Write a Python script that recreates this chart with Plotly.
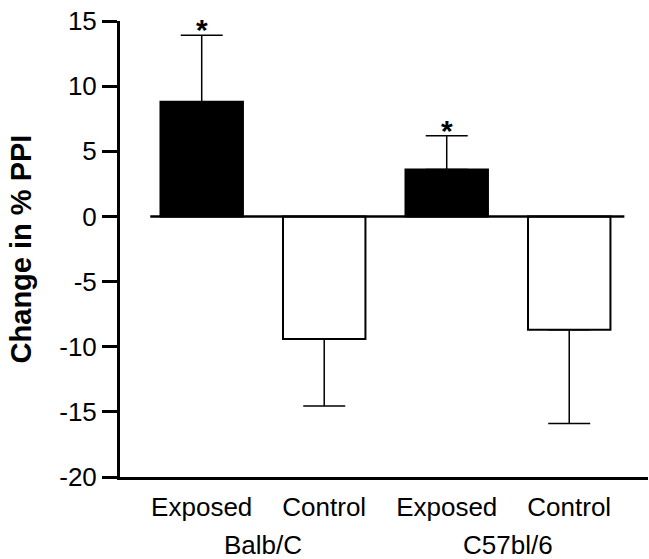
import plotly.graph_objects as go

groups = ["Balb/C", "C57bl/6"]
conditions = ["Exposed", "Control", "Exposed", "Control"]
means = [8.8, -9.4, 3.6, -8.7]
err_plus = [5.1, 0.0, 2.6, 0.0]
err_minus = [0.0, 5.15, 0.0, 7.2]
significant = [True, False, True, False]
y_ticks = [-20, -15, -10, -5, 0, 5, 10, 15]

xs = list(range(len(conditions)))
fills = ["black" if c == "Exposed" else "white" for c in conditions]

FONT = "Liberation Sans, Arial, sans-serif"

fig = go.Figure()
fig.add_trace(go.Bar(
    x=xs, y=means, width=0.673,
    marker=dict(color=fills, line=dict(color="black", width=2)),
    error_y=dict(type="data", symmetric=False, array=err_plus, arrayminus=err_minus,
                 color="black", thickness=1.5, width=21),
    showlegend=False,
))

# asterisks above significant bars
for i, s in enumerate(significant):
    if s:
        fig.add_annotation(x=xs[i], y=means[i] + err_plus[i], text="<b>*</b>",
                           showarrow=False, yanchor="bottom", yshift=-13,
                           font=dict(family=FONT, size=30, color="black"))

# group labels
for g, name in enumerate(groups):
    fig.add_annotation(x=(xs[2 * g] + xs[2 * g + 1]) / 2, y=-0.149, xref="x", yref="paper",
                       text=name, showarrow=False, yanchor="middle",
                       font=dict(family=FONT, size=26, color="black"))

# zero baseline
fig.add_shape(type="line", xref="x", yref="y", x0=xs[0] - 0.42, x1=xs[-1] + 0.45, y0=0, y1=0,
              line=dict(color="black", width=2.5))

fig.update_layout(
    width=649, height=559,
    margin=dict(l=120, r=1, t=21, b=82),
    paper_bgcolor="white", plot_bgcolor="white",
    font=dict(family=FONT, color="black"),
    xaxis=dict(range=[-0.667, 3.643], tickmode="array", tickvals=xs, ticktext=conditions,
               showgrid=False, zeroline=False, showline=True, linecolor="black", linewidth=3,
               ticks="", tickfont=dict(size=26, family=FONT), fixedrange=True, automargin=False,
               ticklabelstandoff=5),
    yaxis=dict(range=[-20, 15], tickmode="array", tickvals=y_ticks, ticktext=[str(t) for t in y_ticks],
               showgrid=False, zeroline=False, showline=True, linecolor="black", linewidth=3,
               ticks="outside", ticklen=15, tickwidth=3, tickcolor="black",
               tickfont=dict(size=26, family=FONT), automargin=False,
               title=dict(text="<b>Change in % PPI</b>", font=dict(size=29, family=FONT), standoff=20)),
)

fig.write_html("out.html", config={"displayModeBar": False},
               post_script="document.body.style.margin='0';")
